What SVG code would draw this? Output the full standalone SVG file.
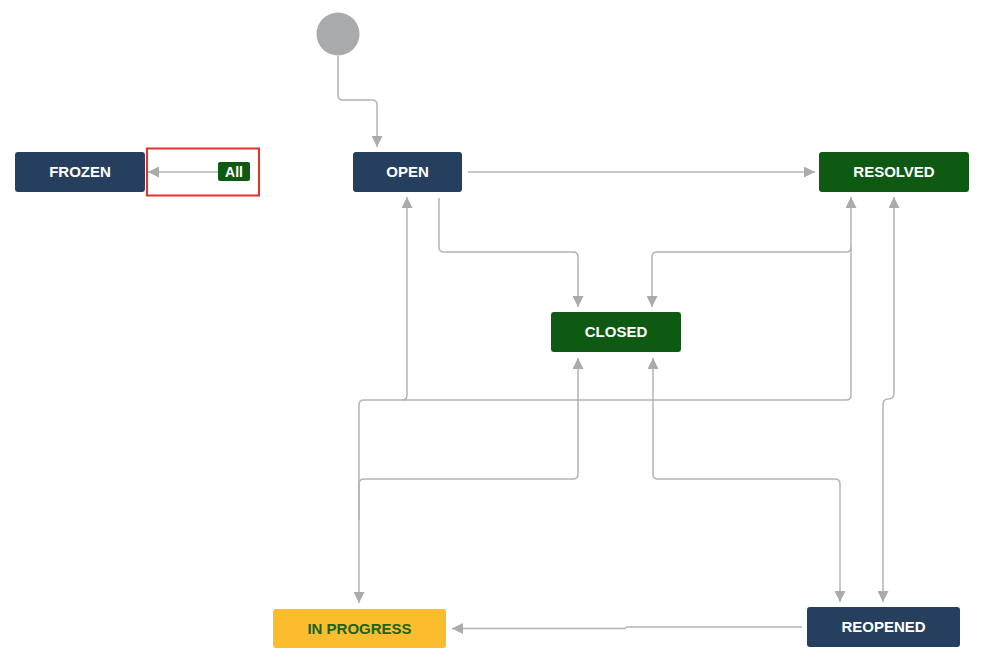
<svg xmlns="http://www.w3.org/2000/svg" width="983" height="667" viewBox="0 0 983 667">
<style>
.lbl{font-family:"Liberation Sans",Arial,sans-serif;font-weight:bold;font-size:15px;text-anchor:middle;fill:#ffffff}
.navy{fill:#263f5e}
.green{fill:#0f5a12}
.conn{fill:none;stroke:#b4b4b4;stroke-width:1.5}
</style>
<defs>
<marker id="ah" viewBox="0 0 10 10" refX="10" refY="5" markerWidth="11" markerHeight="11" markerUnits="userSpaceOnUse" orient="auto-start-reverse">
<path d="M0,0 L10,5 L0,10 z" fill="#a9abad"/>
</marker>
</defs>
<rect width="983" height="667" fill="#ffffff"/>
<g id="connectors">
<path class="conn" d="M338,56 V95 Q338,100 343,100 H372 Q377,100 377,105 V147" marker-end="url(#ah)"/>
<path class="conn" d="M218,172 H148" marker-end="url(#ah)"/>
<path class="conn" d="M468,172 H815" marker-end="url(#ah)"/>
<path class="conn" d="M439,198 V247 Q439,252 444,252 H573 Q578,252 578,257 V307" marker-end="url(#ah)"/>
<path class="conn" d="M851,247 Q851,252 846,252 H657 Q652,252 652,257 V307" marker-end="url(#ah)"/>
<path class="conn" d="M359,603 V405 Q359,400 364,400 H402 Q407,400 407,395 V197" marker-start="url(#ah)" marker-end="url(#ah)"/>
<path class="conn" d="M402,400 H846 Q851,400 851,395 V197" marker-end="url(#ah)"/>
<path class="conn" d="M894,197 V393 Q894,399 888,399 Q883,399 883,405 V602" marker-start="url(#ah)" marker-end="url(#ah)"/>
<path class="conn" d="M578,358 V474 Q578,479 573,479 H364 Q359,479 359,484 V520" marker-start="url(#ah)"/>
<path class="conn" d="M653,358 V474 Q653,479 658,479 H835 Q840,479 840,484 V602" marker-start="url(#ah)" marker-end="url(#ah)"/>
<path class="conn" d="M802,627 H627 L625,628.5 H452" marker-end="url(#ah)"/>
</g>
<g id="start">
<circle cx="338" cy="34" r="21.5" fill="#a8aaab"/>
</g>
<g id="frozen">
<rect x="15" y="152" width="130" height="40" rx="3" class="navy"/>
<text x="80" y="177" class="lbl">FROZEN</text>
</g>
<g id="all">
<rect x="147" y="148.5" width="112" height="47" fill="none" stroke="#e8302a" stroke-width="2"/>
<rect x="218" y="162" width="32" height="19" rx="2" class="green"/>
<text x="234" y="177" class="lbl" style="font-size:14px">All</text>
</g>
<g id="open">
<rect x="353" y="152" width="109" height="40" rx="3" class="navy"/>
<text x="407.5" y="177" class="lbl">OPEN</text>
</g>
<g id="resolved">
<rect x="819" y="152" width="150" height="40" rx="3" class="green"/>
<text x="894" y="177" class="lbl">RESOLVED</text>
</g>
<g id="closed">
<rect x="551" y="312" width="130" height="40" rx="3" class="green"/>
<text x="616" y="337" class="lbl">CLOSED</text>
</g>
<g id="inprogress">
<rect x="273" y="609" width="173" height="39" rx="3" fill="#fbbd2e"/>
<text x="359.5" y="634" class="lbl" style="fill:#17641a">IN PROGRESS</text>
</g>
<g id="reopened">
<rect x="807" y="607" width="153" height="40" rx="3" class="navy"/>
<text x="883.5" y="632" class="lbl">REOPENED</text>
</g>
</svg>
